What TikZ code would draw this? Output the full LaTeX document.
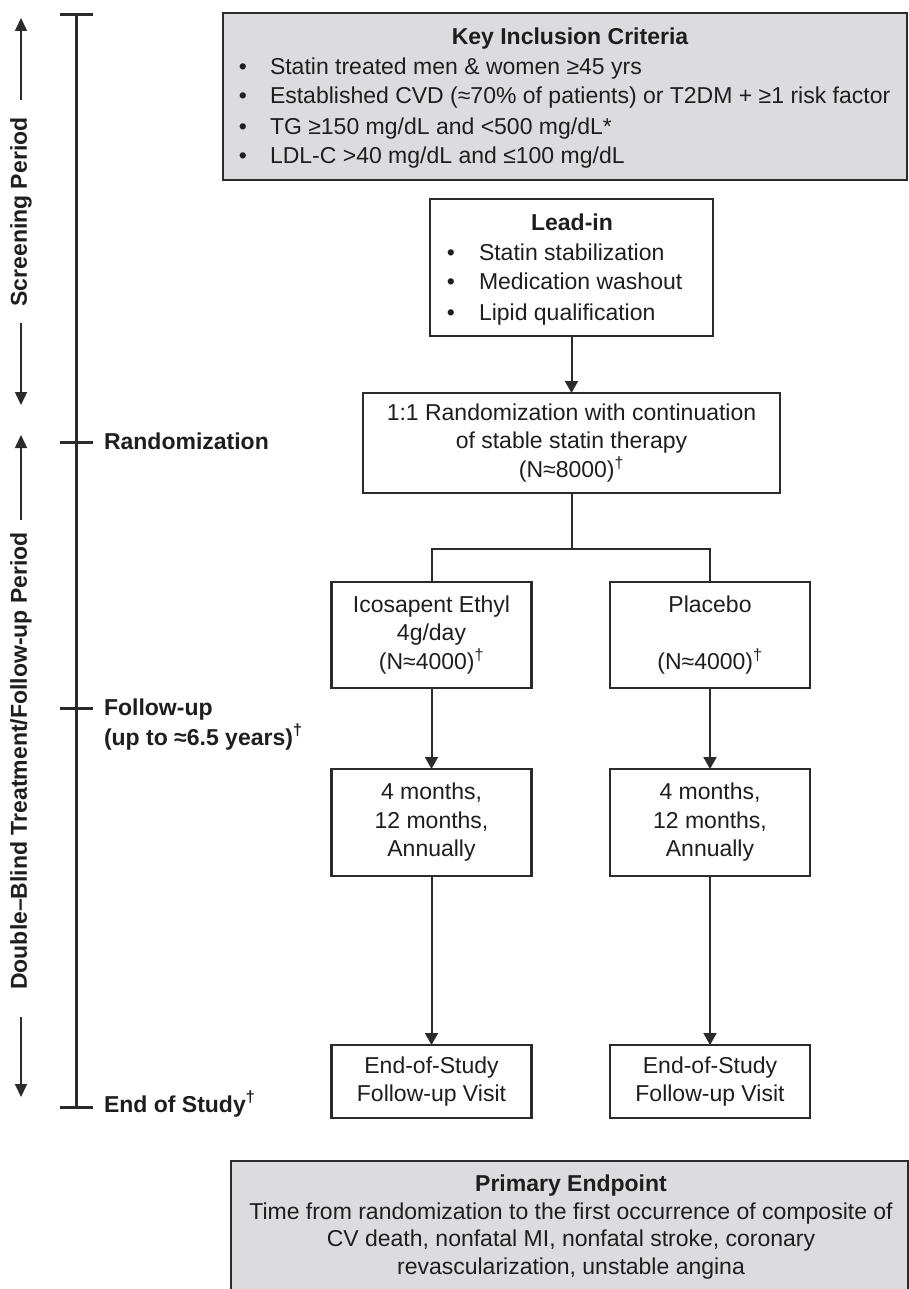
\documentclass[tikz,border=0pt]{standalone}
\usepackage{fontspec}
\setmainfont{Liberation Sans}
\usetikzlibrary{arrows.meta}
\definecolor{boxgray}{HTML}{DCDCDE}
\definecolor{edge}{HTML}{2B2B2B}
\definecolor{ink}{HTML}{1E1E1E}
\begin{document}
\begin{tikzpicture}[x=1pt,y=-1pt,
  every node/.style={inner sep=0pt, outer sep=0pt},
  txt/.style={font=\fontsize{23}{28.5}\selectfont, text=ink},
  btxt/.style={font=\fontsize{23}{28.5}\selectfont\bfseries, text=ink},
  flowbox/.style={draw=edge, line width=2.2pt, fill=white, align=center, txt},
  graybox/.style={fill=boxgray, draw=edge, line width=2.5pt},
  conn/.style={draw=edge, line width=2pt},
  arr/.style={conn, -{Triangle[length=12pt,width=13pt]}},
  thinarr/.style={draw=edge, line width=1.6pt, -{Triangle[length=13pt,width=12pt]}},
  axisline/.style={draw=edge, line width=3pt},
]
\useasboundingbox (0,0) rectangle (909,1289);

% ---- Key inclusion criteria
\node[graybox, minimum width=684pt, minimum height=167pt] (crit) at (565,96.5) {};
\node[btxt, anchor=base] (crittitle) at (570,45) {Key Inclusion Criteria};
\node[txt, anchor=base] (cb1) at (243,75) {•};
\node[txt, anchor=base] (cb2) at (243,104) {•};
\node[txt, anchor=base] (cb3) at (243,135) {•};
\node[txt, anchor=base] (cb4) at (243,164) {•};
\node[txt, anchor=base west] (ct1) at (270,75) {Statin treated men \& women ≥45 yrs};
\node[txt, anchor=base west] (ct2) at (270,104) {Established CVD (≈70\% of patients) or T2DM + ≥1 risk factor};
\node[txt, anchor=base west] (ct3) at (270,135) {TG ≥150 mg/dL and <500 mg/dL*};
\node[txt, anchor=base west] (ct4) at (270,164) {LDL-C >40 mg/dL and ≤100 mg/dL};

% ---- Lead-in
\node[flowbox, minimum width=283pt, minimum height=137pt] (lead) at (571.5,267.5) {};
\node[btxt, anchor=base] (leadt) at (572,231) {Lead-in};
\node[txt, anchor=base] (lb1) at (451,260) {•};
\node[txt, anchor=base] (lb2) at (451,289) {•};
\node[txt, anchor=base] (lb3) at (451,320) {•};
\node[txt, anchor=base west] (lt1) at (479,260) {Statin stabilization};
\node[txt, anchor=base west] (lt2) at (479,289) {Medication washout};
\node[txt, anchor=base west] (lt3) at (479,320) {Lipid qualification};

% ---- Randomization
\node[flowbox, minimum width=417pt, minimum height=100pt] (rand) at (571.5,443)
  {1:1 Randomization with continuation\\of stable statin therapy\\(N≈8000)\textsuperscript{†}};

% ---- Arms
\node[flowbox, minimum width=200pt, minimum height=106pt] (ico) at (431.5,635)
  {Icosapent Ethyl\\4g/day\\(N≈4000)\textsuperscript{†}};
\node[flowbox, minimum width=200pt, minimum height=106pt] (pla) at (710,635)
  {Placebo\\\mbox{}\\(N≈4000)\textsuperscript{†}};
\node[flowbox, minimum width=200pt, minimum height=107pt] (mo1) at (431.5,822.5)
  {4 months,\\12 months,\\Annually};
\node[flowbox, minimum width=200pt, minimum height=107pt] (mo2) at (710,822.5)
  {4 months,\\12 months,\\Annually};
\node[flowbox, minimum width=200pt, minimum height=73pt] (eos1) at (431.5,1081.5)
  {End-of-Study\\Follow-up Visit};
\node[flowbox, minimum width=200pt, minimum height=73pt] (eos2) at (710,1081.5)
  {End-of-Study\\Follow-up Visit};

% ---- Primary endpoint
\node[fill=boxgray, minimum width=677pt, minimum height=128pt, anchor=north west] (pe) at (231,1161) {};
\draw[draw=edge, line width=2.5pt] (pe.south west) -- (pe.north west) -- (pe.north east) -- (pe.south east);
\node[btxt, anchor=base] (pet) at (571,1191) {Primary Endpoint};
\node[txt, anchor=base] (pe1) at (571,1219) {Time from randomization to the first occurrence of composite of};
\node[txt, anchor=base] (pe2) at (571,1246) {CV death, nonfatal MI, nonfatal stroke, coronary};
\node[txt, anchor=base] (pe3) at (571,1274) {revascularization, unstable angina};

% ---- Connectors
\coordinate (split) at (571.5,549);
\draw[arr] (lead.south) -- (rand.north);
\draw[conn] (rand.south) -- (split);
\draw[conn] (ico.north) |- (split) -| (pla.north);
\draw[arr] (ico.south) -- (mo1.north);
\draw[arr] (pla.south) -- (mo2.north);
\draw[arr] (mo1.south) -- (eos1.north);
\draw[arr] (mo2.south) -- (eos2.north);

% ---- Time axis
\coordinate (axtop) at (76,15);
\coordinate (axrand) at (76,442);
\coordinate (axfu) at (76,708);
\coordinate (axend) at (76,1107);
\draw[axisline] (axtop) -- (axend);
\draw[axisline] ([xshift=-16pt]axtop) -- ([xshift=17pt]axtop);
\draw[axisline] ([xshift=-16pt]axrand) -- ([xshift=17pt]axrand);
\draw[axisline] ([xshift=-16pt]axfu) -- ([xshift=17pt]axfu);
\draw[axisline] ([xshift=-16pt]axend) -- ([xshift=17pt]axend);

\node[btxt, anchor=base west] (lrand) at (104,449) {Randomization};
\node[btxt, anchor=base west] (lfu) at (104,715) {Follow-up};
\node[btxt, anchor=base west] (lfu2) at (104,745) {(up to ≈6.5 years)\textsuperscript{†}};
\node[btxt, anchor=base west] (lend) at (104,1112) {End of Study\textsuperscript{†}};

% ---- Period labels
\node[btxt, rotate=90] (lscr) at (21,212) {Screening Period};
\node[btxt, rotate=90] (ldb) at (21,761) {Double–Blind Treatment/Follow-up Period};
\coordinate (s1) at (21,100);  \coordinate (s1t) at (21,18);
\coordinate (s2) at (21,323);  \coordinate (s2t) at (21,405);
\coordinate (d1) at (21,520);  \coordinate (d1t) at (21,435);
\coordinate (d2) at (21,1017); \coordinate (d2t) at (21,1097);
\draw[thinarr] (s1) -- (s1t);
\draw[thinarr] (s2) -- (s2t);
\draw[thinarr] (d1) -- (d1t);
\draw[thinarr] (d2) -- (d2t);
\end{tikzpicture}
\end{document}
